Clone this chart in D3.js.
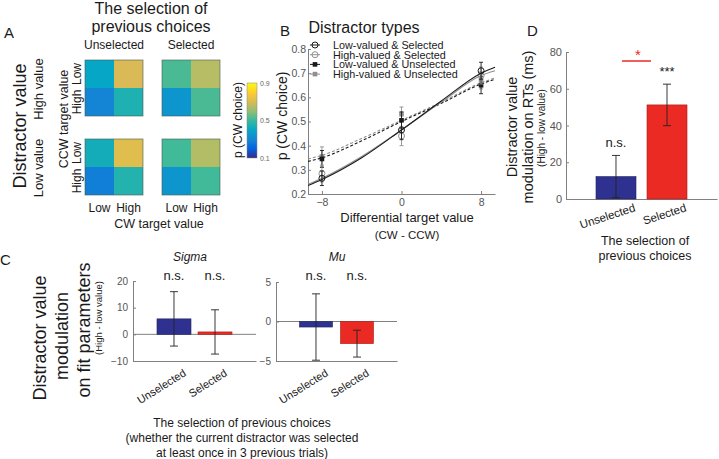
<!DOCTYPE html>
<html><head><meta charset="utf-8">
<script src="https://cdn.jsdelivr.net/npm/d3@7"></script>
<style>body{margin:0;background:#fff} svg{display:block;font-family:"Liberation Sans",Arial,sans-serif}</style>
</head><body><svg id="c" width="719" height="459"></svg>
<script>
// ---------------- DATA ----------------
// Panel A: heat maps, rows = CCW target value (Low, High), cols = CW target value (Low, High)
const heatCW = ["Low", "High"];
const heatCCW = ["Low", "High"];
const heatCols = ["Unselected", "Selected"];
const heatRows = ["High value", "Low value"];
const heatUnselHigh = [[0.40, 0.70], [0.30, 0.45]];
const heatSelHigh   = [[0.52, 0.65], [0.35, 0.52]];
const heatUnselLow  = [[0.43, 0.72], [0.28, 0.46]];
const heatSelLow    = [[0.51, 0.645], [0.35, 0.51]];
const cbarTicks = [0.1, 0.5, 0.9];
const parulaStops = ["#352a87", "#0363e1", "#1485d4", "#06a7c6", "#38b99e", "#92bf73", "#d9ba56", "#fcce2e", "#f9fb0e"];

// Panel B: psychometric data
const bXTicks = [-8, 0, 8];
const bYTicks = [0.2, 0.3, 0.4, 0.5, 0.6, 0.7, 0.8];
const bPointX = [-8, 0, 8];
const bCurveX = [-9.4, -8, -4, 0, 4, 8, 9.4];
const bSeriesNames = ["Low-valued & Selected", "High-valued & Selected", "Low-valued & Unselected", "High-valued & Unselected"];
const lowSelPts   = [0.265, 0.465, 0.71];
const highSelPts  = [0.285, 0.44, 0.69];
const lowUnselPts = [0.345, 0.505, 0.65];
const highUnselPts= [0.355, 0.53, 0.67];
const lowSelErr   = [0.03, 0.04, 0.035];
const highSelErr  = [0.035, 0.04, 0.035];
const lowUnselErr = [0.035, 0.035, 0.035];
const highUnselErr= [0.04, 0.03, 0.035];
const lowSelFit   = [0.235, 0.26, 0.35, 0.465, 0.585, 0.70, 0.725];
const highSelFit  = [0.24, 0.265, 0.355, 0.465, 0.58, 0.69, 0.71];
const lowUnselFit = [0.335, 0.35, 0.42, 0.50, 0.575, 0.655, 0.675];
const highUnselFit= [0.345, 0.36, 0.43, 0.505, 0.58, 0.66, 0.68];

// Panel C
const barCats = ["Unselected", "Selected"];
const sigmaVals = [5.8, 0.9];
const sigmaErr = [10.2, 8.3];
const sigmaTicks = [-10, 0, 10, 20];
const muVals = [-0.7, -2.8];
const muErr = [4.2, 1.7];
const muTicks = [-5, 0, 5];
const cSig = ["n.s.", "n.s."];

// Panel D
const rtVals = [12.2, 51.2];
const rtErr = [11.5, 11.3];
const rtTicks = [0, 20, 40, 60, 80];
const rtSig = ["n.s.", "***"];

// ---------------- DRAW ----------------
const svg = d3.select("#c");
const TXT = "#1a1a1a", AX = "#808080", TL = "#555";
const BLUE = "#2f3190", RED = "#ec2a24";

function text(g, x, y, s, o = {}) {
  const t = g.append("text").attr("x", x).attr("y", y).text(s)
    .attr("font-size", o.fs || 12).attr("fill", o.fill || TXT)
    .attr("text-anchor", o.anchor || "middle");
  if (o.italic) t.attr("font-style", "italic");
  return t;
}
function vtext(g, x, y, s, o = {}) {
  return g.append("text").attr("transform", `translate(${x},${y}) rotate(-90)`)
    .attr("dy", "0.35em").text(s).attr("font-size", o.fs || 12)
    .attr("fill", o.fill || TXT).attr("text-anchor", "middle");
}
function styleAxis(sel, fs) {
  sel.select(".domain").attr("stroke", AX);
  sel.selectAll(".tick line").attr("stroke", AX);
  sel.selectAll(".tick text").attr("fill", TL).attr("font-size", fs)
    .attr("font-family", '"Liberation Sans",Arial,sans-serif');
}

// ===== Panel A =====
const gA = svg.append("g");
text(gA, 4, 38, "A", { fs: 15, anchor: "start" });
text(gA, 151, 14, "The selection of", { fs: 16 });
text(gA, 151, 32, "previous choices", { fs: 16 });
const colS = d3.scaleBand().domain(heatCols).range([85, 220]).paddingInner(0.247);
const rowS = d3.scaleBand().domain(heatRows).range([60, 195]).paddingInner(0.291);
const cwS = d3.scaleBand().domain(heatCW).range([0, colS.bandwidth()]);
const ccwS = d3.scaleBand().domain(heatCCW).range([0, rowS.bandwidth()]);
const colorS = d3.scaleLinear().domain(parulaStops.map((d, i) => 0.1 + 0.8 * i / (parulaStops.length - 1))).range(parulaStops).clamp(true);
const blocks = [
  { r: "High value", c: "Unselected", m: heatUnselHigh },
  { r: "High value", c: "Selected", m: heatSelHigh },
  { r: "Low value", c: "Unselected", m: heatUnselLow },
  { r: "Low value", c: "Selected", m: heatSelLow }
];
blocks.forEach(b => {
  const g = gA.append("g").attr("transform", `translate(${colS(b.c)},${rowS(b.r)})`);
  heatCCW.forEach((rr, i) => heatCW.forEach((cc, j) => {
    g.append("rect").attr("x", cwS(cc)).attr("y", ccwS(rr))
      .attr("width", cwS.bandwidth()).attr("height", ccwS.bandwidth())
      .attr("fill", colorS(b.m[i][j]));
  }));
  g.append("rect").attr("width", colS.bandwidth()).attr("height", rowS.bandwidth())
    .attr("fill", "none").attr("stroke", "#4a5a50").attr("stroke-opacity", 0.6).attr("stroke-width", 1);
});
heatCols.forEach(c => {
  text(gA, colS(c) + colS.bandwidth() / 2, 49, c, { fs: 12 });
  heatCW.forEach(cc => text(gA, colS(c) + cwS(cc) + cwS.bandwidth() / 2, 212, cc, { fs: 12 }));
});
heatRows.forEach(r => {
  vtext(gA, 38, rowS(r) + rowS.bandwidth() / 2 + 1, r, { fs: 13 });
  heatCCW.forEach(rr => vtext(gA, 77, rowS(r) + ccwS(rr) + ccwS.bandwidth() / 2, rr, { fs: 12 }));
});
text(gA, 159, 228, "CW target value", { fs: 12.5 });
vtext(gA, 64, 119, "CCW target value", { fs: 12.5 });
vtext(gA, 20, 126, "Distractor value", { fs: 18 });
// colorbar
const cbY = d3.scaleLinear().domain([0.1, 0.9]).range([158, 83]);
const defs = svg.append("defs");
const grad = defs.append("linearGradient").attr("id", "parula").attr("x1", 0).attr("y1", 1).attr("x2", 0).attr("y2", 0);
parulaStops.forEach((c, i) => grad.append("stop").attr("offset", i / (parulaStops.length - 1)).attr("stop-color", c));
gA.append("rect").attr("x", 247).attr("y", cbY(0.9)).attr("width", 10).attr("height", cbY(0.1) - cbY(0.9))
  .attr("fill", "url(#parula)").attr("stroke", "#888").attr("stroke-width", 0.5);
cbarTicks.forEach(t => text(gA, 260, cbY(t) + 2.5, String(t), { fs: 7, anchor: "start", fill: "#666" }));
vtext(gA, 238, 120, "p (CW choice)", { fs: 12 });

// ===== Panel B =====
const gB = svg.append("g");
text(gB, 280, 36, "B", { fs: 15, anchor: "start" });
text(gB, 364, 33, "Distractor types", { fs: 16 });
const bx = d3.scaleLinear().domain([-9.4, 9.4]).range([308, 495]);
const by = d3.scaleLinear().domain([0.2, 0.8]).range([194, 49]);
styleAxis(gB.append("g").attr("transform", "translate(0,194)")
  .call(d3.axisBottom(bx).tickValues(bXTicks).tickSizeInner(-3).tickSizeOuter(0).tickPadding(5)), 10.5);
styleAxis(gB.append("g").attr("transform", "translate(308,0)")
  .call(d3.axisLeft(by).tickValues(bYTicks).tickFormat(d3.format(".1f")).tickSizeInner(-3).tickSizeOuter(0).tickPadding(2)), 10.5);
vtext(gB, 282, 116, "p (CW choice)", { fs: 14 });
text(gB, 407, 222, "Differential target value", { fs: 13 });
text(gB, 407, 239, "(CW - CCW)", { fs: 11.5 });
const bSeries = [
  { name: bSeriesNames[0], pts: lowSelPts, err: lowSelErr, fit: lowSelFit, col: "#1a1a1a", dash: null, open: true },
  { name: bSeriesNames[1], pts: highSelPts, err: highSelErr, fit: highSelFit, col: "#8f8f8f", dash: null, open: true },
  { name: bSeriesNames[2], pts: lowUnselPts, err: lowUnselErr, fit: lowUnselFit, col: "#1a1a1a", dash: "3,2", open: false },
  { name: bSeriesNames[3], pts: highUnselPts, err: highUnselErr, fit: highUnselFit, col: "#8f8f8f", dash: "3,2", open: false }
];
const line = d3.line().x(d => bx(d[0])).y(d => by(d[1])).curve(d3.curveMonotoneX);
function marker(g, x, y, s) {
  if (s.open) g.append("circle").attr("cx", x).attr("cy", y).attr("r", 3).attr("fill", "none").attr("stroke", s.col).attr("stroke-width", 1);
  else g.append("rect").attr("x", x - 2.3).attr("y", y - 2.3).attr("width", 4.6).attr("height", 4.6).attr("fill", s.col);
}
[...bSeries].reverse().forEach(s => {
  gB.append("path").attr("d", line(bCurveX.map((x, i) => [x, s.fit[i]])))
    .attr("fill", "none").attr("stroke", s.col).attr("stroke-width", 1.1).attr("stroke-dasharray", s.dash);
  bPointX.forEach((x, i) => {
    const cx = bx(x), y1 = by(s.pts[i] - s.err[i]), y2 = by(s.pts[i] + s.err[i]);
    gB.append("line").attr("x1", cx).attr("x2", cx).attr("y1", y1).attr("y2", y2).attr("stroke", s.col).attr("stroke-width", 0.9);
    [y1, y2].forEach(yy => gB.append("line").attr("x1", cx - 2).attr("x2", cx + 2).attr("y1", yy).attr("y2", yy).attr("stroke", s.col).attr("stroke-width", 0.9));
    marker(gB, cx, by(s.pts[i]), s);
  });
});
bSeries.forEach((s, i) => {
  const ly = 45 + i * 9.7;
  gB.append("line").attr("x1", 310).attr("x2", 320).attr("y1", ly).attr("y2", ly).attr("stroke", s.col).attr("stroke-width", 1);
  marker(gB, 315, ly, s);
  text(gB, 333, ly + 3.8, s.name, { fs: 10.8, anchor: "start" });
});

// ===== Panel C =====
const gC = svg.append("g");
text(gC, 0, 265, "C", { fs: 15, anchor: "start" });
vtext(gC, 40, 338, "Distractor value", { fs: 18 });
vtext(gC, 62, 336, "modulation", { fs: 18 });
vtext(gC, 84, 330, "on fit parameters", { fs: 18 });
vtext(gC, 99, 318, "(High - low value)", { fs: 9.5 });
function barPanel(g, opts) {
  const x = d3.scaleBand().domain(barCats).range(opts.xr).paddingInner(opts.pi).paddingOuter(opts.po);
  const y = d3.scaleLinear().domain(opts.yd).range(opts.yr);
  styleAxis(g.append("g").attr("transform", `translate(0,${opts.yr[0]})`)
    .call(d3.axisBottom(x).tickSize(0).tickFormat("")), opts.fs);
  styleAxis(g.append("g").attr("transform", `translate(${opts.xr[0]},0)`)
    .call(d3.axisLeft(y).tickValues(opts.ticks).tickSizeInner(-3).tickSizeOuter(0).tickPadding(opts.pad)), opts.fs);
  if (opts.yd[0] < 0) g.append("line").attr("x1", opts.xr[0]).attr("x2", opts.xr[1]).attr("y1", y(0)).attr("y2", y(0)).attr("stroke", AX).attr("stroke-width", 1);
  barCats.forEach((c, i) => {
    const v = opts.vals[i], e = opts.err[i];
    g.append("rect").attr("x", x(c)).attr("width", x.bandwidth())
      .attr("y", y(Math.max(0, v))).attr("height", Math.abs(y(v) - y(0)))
      .attr("fill", i === 0 ? BLUE : RED).attr("stroke", i === 0 ? "#22245e" : "#a51d18").attr("stroke-width", 0.6);
    const cx = x(c) + x.bandwidth() / 2;
    g.append("line").attr("x1", cx).attr("x2", cx).attr("y1", y(v - e)).attr("y2", y(v + e)).attr("stroke", "#222").attr("stroke-width", 0.9);
    [v - e, v + e].forEach(t => g.append("line").attr("x1", cx - 4).attr("x2", cx + 4).attr("y1", y(t)).attr("y2", y(t)).attr("stroke", "#222").attr("stroke-width", 0.9));
    if (opts.sig) text(g, cx + (opts.sigDx || 0), opts.sigY[i], opts.sig[i], { fs: 13 });
    g.append("text").attr("transform", `translate(${cx + opts.lblDx},${opts.yr[0] + opts.lblDy}) rotate(${opts.rot})`)
      .attr("text-anchor", "end").attr("font-size", opts.lblFs).attr("fill", TXT).text(c);
  });
  return { x, y };
}
text(gC, 190, 261, "Sigma", { fs: 12, italic: true });
text(gC, 337, 261, "Mu", { fs: 12, italic: true });
barPanel(gC.append("g"), { xr: [133, 256], pi: 0.1707, po: 0.585, yd: [-10, 20], yr: [361, 281], ticks: sigmaTicks, vals: sigmaVals, err: sigmaErr, fs: 10, pad: 5, sig: cSig, sigY: [280, 280], lblDx: 13, lblDy: 14, rot: -32, lblFs: 11 });
barPanel(gC.append("g"), { xr: [276, 397], pi: 0.195, po: 0.573, yd: [-5, 5], yr: [361, 282], ticks: muTicks, vals: muVals, err: muErr, fs: 10, pad: 5, sig: cSig, sigY: [280, 280], lblDx: 13, lblDy: 14, rot: -32, lblFs: 11 });
text(gC, 242, 427, "The selection of previous choices", { fs: 12 });
text(gC, 242, 442, "(whether the current distractor was selected", { fs: 12 });
text(gC, 242, 457, "at least once in 3 previous trials)", { fs: 12 });

// ===== Panel D =====
const gD = svg.append("g");
text(gD, 527, 36, "D", { fs: 15, anchor: "start" });
vtext(gD, 512, 127, "Distractor value", { fs: 14.5 });
vtext(gD, 528, 127, "modulation on RTs (ms)", { fs: 14.5 });
vtext(gD, 541, 128, "(High - low value)", { fs: 10 });
const dS = barPanel(gD.append("g"), { xr: [566, 717], pi: 0.216, po: 0.588, yd: [0, 80], yr: [199, 52], ticks: rtTicks, vals: rtVals, err: rtErr, fs: 11, pad: 4, sig: rtSig, sigY: [147, 76], lblDx: 20, lblDy: 12, rot: -18, lblFs: 11.5 });
gD.append("line").attr("x1", dS.x("Unselected") + dS.x.bandwidth() / 2 + 6).attr("x2", dS.x("Selected") + dS.x.bandwidth() / 2 - 16)
  .attr("y1", 61).attr("y2", 61).attr("stroke", RED).attr("stroke-width", 1.5);
text(gD, 638, 60, "*", { fs: 15, fill: RED });
text(gD, 645, 245, "The selection of", { fs: 12.5 });
text(gD, 645, 260, "previous choices", { fs: 12.5 });
</script></body></html>
